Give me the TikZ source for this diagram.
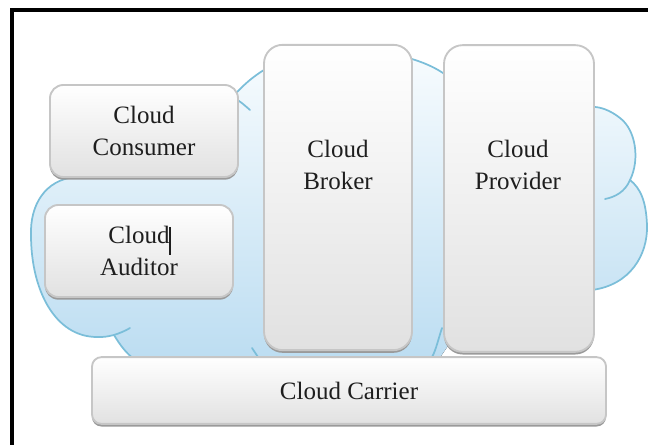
\documentclass[tikz,border=0pt]{standalone}
\usepackage{fontspec}
\setmainfont{LiberationSerif}[Extension=.ttf, UprightFont=*-Regular]
\usetikzlibrary{shadows}
\definecolor{cloudline}{HTML}{7BBED9}
\definecolor{cloudtop}{HTML}{F8FCFE}
\definecolor{cloudbot}{HTML}{BADCF1}
\definecolor{boxedge}{HTML}{C6C6C6}
\definecolor{boxbot}{HTML}{E1E1E1}
\definecolor{boxshadow}{HTML}{9A9A9A}
\definecolor{inktext}{HTML}{1E1E1E}

\begin{document}
\begin{tikzpicture}[x=0.75pt,y=-0.75pt,
  rolefont/.style={font=\rmfamily\fontsize{18.75pt}{24pt}\selectfont, text=inktext},
  rolebox/.style={draw=boxedge, line width=1.4pt, top color=white, bottom color=boxbot,
    general shadow={fill=boxshadow, shadow yshift=-2pt},
    inner sep=0pt, align=center, rolefont},
  roletext/.style={inner sep=0pt, align=center, rolefont},
  cloudedge/.style={draw=cloudline, line width=1.3pt, line cap=round},
]
\useasboundingbox (0,0) rectangle (648,445);

% outer frame (only its top and left sides fall on the page)
\draw[line width=2.3pt] (12,445) -- (12,10) -- (648,10);

% the cloud behind the role boxes
\fill[top color=cloudtop, bottom color=cloudbot]
  (75,177) .. controls (45,180) and (30,205) .. (31,235)
  .. controls (31,290) and (55,337) .. (97,337)
  .. controls (105,337) .. (114,335)
  .. controls (120,345) and (126,353) .. (135,360)
  -- (135,372) -- (430,372) -- (452,340) -- (592,290)
  .. controls (630,285) and (648,255) .. (647,225)
  .. controls (646,200) and (640,188) .. (630,180)
  .. controls (640,160) and (636,130) .. (620,118)
  .. controls (610,110) and (600,107) .. (594,107)
  -- (452,80)
  .. controls (430,60) and (390,50) .. (340,50)
  .. controls (290,50) and (255,70) .. (232,98)
  -- cycle;

% cloud outline
\draw[cloudedge]
  (75,177) .. controls (45,180) and (30,205) .. (31,235)
  .. controls (31,290) and (55,337) .. (97,337)
  .. controls (105,337) .. (114,335)
  .. controls (120,345) and (126,353) .. (135,360);
\draw[cloudedge]
  (592,290) .. controls (630,285) and (648,255) .. (647,225)
  .. controls (646,200) and (640,188) .. (630,180)
  .. controls (640,160) and (636,130) .. (620,118)
  .. controls (610,110) and (600,107) .. (594,107);
\draw[cloudedge]
  (452,80) .. controls (430,60) and (390,50) .. (340,50)
  .. controls (290,50) and (255,70) .. (232,98);

% inner curls of the cloud
\draw[cloudedge] (236,99) .. controls (242,103) .. (250,110);
\draw[cloudedge] (630,180) .. controls (625,192) and (615,197) .. (605,199);
\draw[cloudedge] (114,335) .. controls (120,333) and (125,331) .. (130,328);
\draw[cloudedge] (252,348) .. controls (255,352) .. (258,357);
\draw[cloudedge] (442,328) .. controls (438,340) and (436,350) .. (432,357);

% role boxes
\node[rolebox, rounded corners=10pt, minimum width=141pt, minimum height=69pt]
  (consumer) at (144,131) {Cloud\\Consumer};
\node[rolebox, rounded corners=10pt, minimum width=141pt, minimum height=69pt]
  (auditor) at (139,251) {Cloud\\Auditor};
\node[rolebox, rounded corners=14pt, minimum width=111pt, minimum height=229pt]
  (broker) at (338,197.5) {};
\node[rolebox, rounded corners=14pt, minimum width=112.5pt, minimum height=230pt]
  (provider) at (519,198.5) {};
\node[rolebox, rounded corners=7pt, minimum width=385.5pt, minimum height=50pt]
  (carrier) at (349,390.5) {Cloud Carrier};

\node[roletext] (brokertext) at (338,164.5) {Cloud\\Broker};
\node[roletext] (providertext) at (518,164.5) {Cloud\\Provider};

% text cursor left after "Cloud"
\draw[line width=0.8pt, inktext] (170,227) -- (170,255);
\end{tikzpicture}
\end{document}
